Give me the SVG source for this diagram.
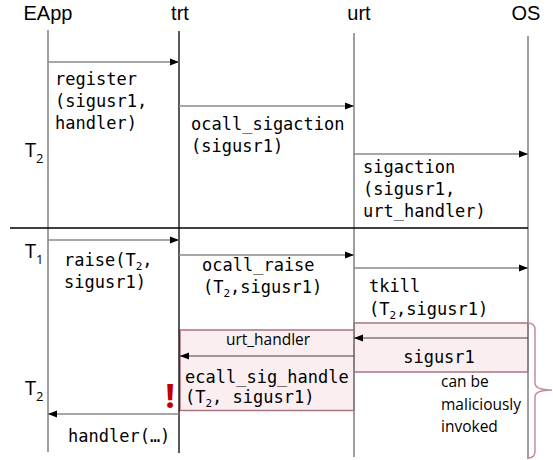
<svg xmlns="http://www.w3.org/2000/svg" width="553" height="460" viewBox="0 0 553 460">
<style>
.hdr{font-family:"Liberation Sans",Arial,sans-serif;font-size:20px;fill:#000;text-anchor:middle}
.t{font-family:"Open Sans","Noto Sans",sans-serif;font-size:20px;fill:#000}
.sub{font-size:13px}
.m{font-family:"DejaVu Sans Mono","Liberation Mono",monospace;font-size:17px;fill:#000}
.msub{font-size:11px}
.s{font-family:"Open Sans","Noto Sans",sans-serif;font-size:15.5px;fill:#000}
.life{stroke:#7f7f7f;stroke-width:1.5;fill:none}
.lifeb{stroke:#000;stroke-width:1.3;fill:none}
.arr{stroke:#8a8a8a;stroke-width:1.5;fill:none;marker-end:url(#ah)}
.arr2{stroke:#404040;stroke-width:1;fill:none;marker-end:url(#ah)}
.box{fill:#faeef1;stroke:#a87484;stroke-width:1.5}
</style>
<defs>
<marker id="ah" markerUnits="userSpaceOnUse" markerWidth="9" markerHeight="8" refX="9" refY="4" orient="auto">
<path d="M0,0.5 L9,4 L0,7.5 z" fill="#000"/>
</marker>
</defs>
<g id="pink-boxes">
<rect class="box" x="354" y="323" width="174" height="49"/>
<rect class="box" x="180" y="330" width="174" height="80.5"/>
</g>
<g id="lifelines">
<g id="EApp"><text class="hdr" x="48" y="19.5">EApp</text><line class="life" x1="48" y1="30" x2="48" y2="452"/></g>
<g id="trt"><text class="hdr" x="180" y="19.5">trt</text><line class="lifeb" x1="179" y1="31" x2="179" y2="453"/></g>
<g id="urt"><text class="hdr" x="359" y="19.5">urt</text><line class="life" x1="354" y1="33" x2="354" y2="457"/></g>
<g id="OS"><text class="hdr" x="526" y="19.5">OS</text><line class="life" x1="528" y1="36" x2="528" y2="459"/></g>
</g>
<line id="separator" x1="10" y1="228" x2="528" y2="228" stroke="#000" stroke-width="1.3"/>
<g id="thread-labels">
<text class="t" x="25" y="157">T<tspan class="sub" dy="6">2</tspan></text>
<text class="t" x="25" y="258">T<tspan class="sub" dy="6">1</tspan></text>
<text class="t" x="25" y="395">T<tspan class="sub" dy="6">2</tspan></text>
</g>
<g id="connectors">
<line class="arr" x1="48" y1="62" x2="179" y2="62"/>
<line class="arr" x1="179" y1="106" x2="354" y2="106"/>
<line class="arr" x1="354" y1="154" x2="528" y2="154"/>
<line class="arr" x1="48" y1="240" x2="179" y2="240"/>
<line class="arr" x1="179" y1="255" x2="354" y2="255"/>
<line class="arr" x1="354" y1="268" x2="528" y2="268"/>
<line class="arr2" x1="528" y1="338" x2="354" y2="338"/>
<line class="arr2" x1="354" y1="356" x2="180" y2="356"/>
<line class="arr" x1="179" y1="414" x2="48" y2="414"/>
</g>
<g id="labels">
<text class="m" x="55" y="85">register</text>
<text class="m" x="55" y="107">(sigusr1,</text>
<text class="m" x="55" y="129">handler)</text>
<text class="m" x="191" y="130">ocall_sigaction</text>
<text class="m" x="191" y="152">(sigusr1)</text>
<text class="m" x="363" y="173">sigaction</text>
<text class="m" x="363" y="195">(sigusr1,</text>
<text class="m" x="363" y="217">urt_handler)</text>
<text class="m" x="64" y="266">raise(T<tspan class="msub" dy="4">2</tspan><tspan dy="-4">,</tspan></text>
<text class="m" x="64" y="288">sigusr1)</text>
<text class="m" x="202" y="271">ocall_raise</text>
<text class="m" x="203" y="293">(T<tspan class="msub" dy="4">2</tspan><tspan dy="-4">,sigusr1)</tspan></text>
<text class="m" x="369" y="292">tkill</text>
<text class="m" x="369" y="315">(T<tspan class="msub" dy="4">2</tspan><tspan dy="-4">,sigusr1)</tspan></text>
<text class="m" x="439" y="363" text-anchor="middle">sigusr1</text>
<text class="s" x="268" y="345" text-anchor="middle" font-size="16">urt_handler</text>
<text class="m" x="185" y="383">ecall_sig_handle</text>
<text class="m" x="185" y="403">(T<tspan class="msub" dy="4">2</tspan><tspan dy="-4">, sigusr1)</tspan></text>
<text class="m" x="68" y="442">handler(…)</text>
<text class="s" x="441" y="387">can be</text>
<text class="s" x="441" y="410">maliciously</text>
<text class="s" x="441" y="432">invoked</text>
<text x="170" y="408" text-anchor="middle" font-family="'Open Sans','Noto Sans',sans-serif" font-size="34" font-weight="bold" fill="#c00000">!</text>
</g>
<path id="brace" d="M528,323 Q535,323 535,330 L535,383 Q535,390 552,390 Q535,390 535,397 L535,451 Q535,458 528,458" fill="none" stroke="#c98a9c" stroke-width="1.5"/>
</svg>
